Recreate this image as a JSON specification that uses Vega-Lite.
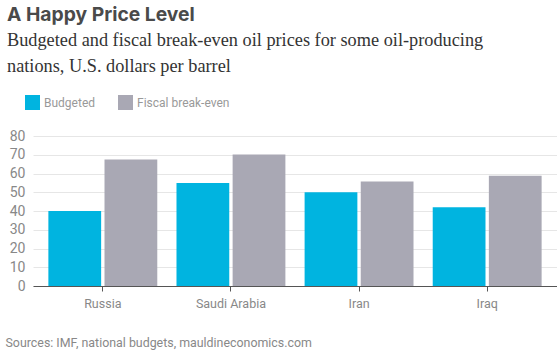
{
  "$schema": "https://vega.github.io/schema/vega-lite/v6.json",
  "width": 524,
  "height": 150,
  "autosize": "none",
  "padding": {"left": 33, "top": 136, "right": 0, "bottom": 66},
  "background": "white",
  "title": {
    "text": "A Happy Price Level",
    "subtitle": ["Budgeted and fiscal break-even oil prices for some oil-producing", "nations, U.S. dollars per barrel"],
    "anchor": "start",
    "frame": "group",
    "dx": -26,
    "font": "Inter",
    "fontSize": 19.3,
    "fontWeight": "bold",
    "color": "#4a4a4a",
    "subtitleFont": "Liberation Serif",
    "subtitleFontSize": 18.3,
    "subtitleColor": "#333333",
    "subtitleLineHeight": 26,
    "subtitlePadding": 6,
    "offset": 20
  },
  "data": {
    "values": [
      {"country": "Russia", "series": "Budgeted", "value": 40},
      {"country": "Russia", "series": "Fiscal break-even", "value": 67.5},
      {"country": "Saudi Arabia", "series": "Budgeted", "value": 55},
      {"country": "Saudi Arabia", "series": "Fiscal break-even", "value": 70.2},
      {"country": "Iran", "series": "Budgeted", "value": 50},
      {"country": "Iran", "series": "Fiscal break-even", "value": 55.7},
      {"country": "Iraq", "series": "Budgeted", "value": 42},
      {"country": "Iraq", "series": "Fiscal break-even", "value": 58.8}
    ]
  },
  "mark": {"type": "bar"},
  "encoding": {
    "x": {
      "field": "country",
      "type": "nominal",
      "sort": ["Russia", "Saudi Arabia", "Iran", "Iraq"],
      "scale": {"paddingInner": 0.15, "paddingOuter": 0.12},
      "axis": {
        "title": "Sources: IMF, national budgets, mauldineconomics.com",
        "titleFont": "Roboto",
        "titleFontSize": 12.4,
        "titleFontWeight": "normal",
        "titleColor": "#888888",
        "titleX": -28,
        "titleY": 56,
        "titleAlign": "left",
        "titleBaseline": "middle",
        "labelAngle": 0,
        "labelFont": "Roboto",
        "labelFontSize": 12.5,
        "labelColor": "#888888",
        "labelPadding": 6,
        "domainColor": "#555555",
        "domainWidth": 1,
        "tickColor": "#555555",
        "tickSize": 5,
        "grid": false
      }
    },
    "xOffset": {
      "field": "series",
      "type": "nominal",
      "scale": {"paddingInner": 0.06}
    },
    "y": {
      "field": "value",
      "type": "quantitative",
      "scale": {"domain": [0, 80]},
      "axis": {
        "title": null,
        "values": [0, 10, 20, 30, 40, 50, 60, 70, 80],
        "labelFont": "Roboto",
        "labelFontSize": 14,
        "labelColor": "#888888",
        "labelPadding": 8,
        "ticks": false,
        "domain": false,
        "gridColor": "#e6e6e6",
        "gridWidth": 1
      }
    },
    "color": {
      "field": "series",
      "type": "nominal",
      "scale": {"domain": ["Budgeted", "Fiscal break-even"], "range": ["#00b4e0", "#a9a8b4"]},
      "legend": {
        "title": null,
        "orient": "none",
        "direction": "horizontal",
        "legendX": -8,
        "legendY": -41,
        "symbolType": "square",
        "symbolSize": 225,
        "symbolStrokeWidth": 0,
        "symbolOpacity": 1,
        "labelFont": "Roboto",
        "labelFontSize": 12,
        "labelColor": "#999999",
        "labelOffset": 4,
        "columnPadding": 22
      }
    }
  },
  "config": {
    "view": {"stroke": null}
  }
}
